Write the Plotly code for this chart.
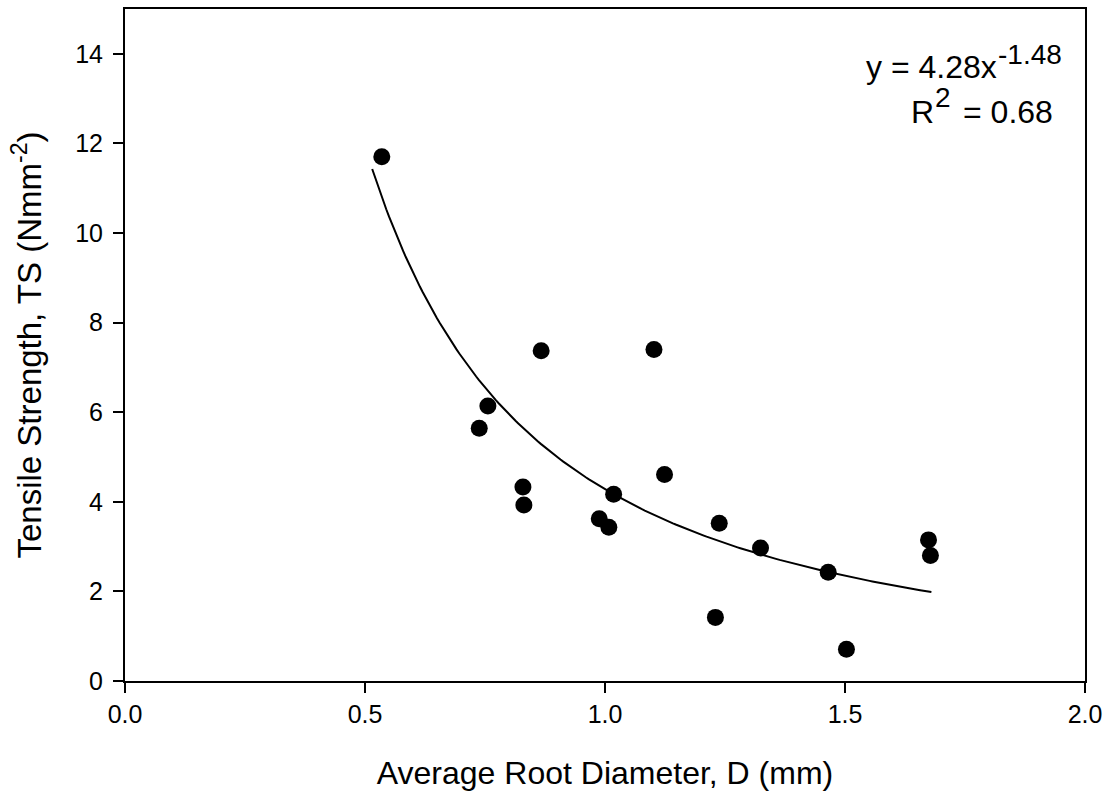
import numpy as np
import plotly.graph_objects as go

# Data
diameter_mm = [0.535, 0.738, 0.756, 0.829, 0.831, 0.867, 0.988, 1.008, 1.018,
               1.102, 1.124, 1.230, 1.238, 1.324, 1.465, 1.503, 1.674, 1.678]
tensile_strength = [11.70, 5.64, 6.14, 4.33, 3.93, 7.37, 3.62, 3.43, 4.17,
                    7.40, 4.61, 1.42, 3.52, 2.97, 2.43, 0.71, 3.15, 2.80]

# Power-law fit shown on the chart: y = a * x^b
fit_a = 4.28
fit_b = -1.48
fit_r2 = 0.68
fit_x_start = 0.515
fit_x_end = 1.68

x_ticks = [0.0, 0.5, 1.0, 1.5, 2.0]
y_ticks = [0, 2, 4, 6, 8, 10, 12, 14]

fit_x = np.linspace(fit_x_start, fit_x_end, 200)
fit_y = fit_a * fit_x ** fit_b

FONT = "Liberation Sans, Arial, sans-serif"

fig = go.Figure()
fig.add_trace(go.Scatter(x=fit_x, y=fit_y, mode="lines",
                         line=dict(color="black", width=2), hoverinfo="skip",
                         showlegend=False))
fig.add_trace(go.Scatter(x=diameter_mm, y=tensile_strength, mode="markers",
                         marker=dict(color="black", size=17), showlegend=False))

axis_common = dict(showline=True, linecolor="black", linewidth=2, mirror=True,
                   ticks="outside", ticklen=10, tickwidth=2, tickcolor="black",
                   showgrid=False, zeroline=False,
                   tickfont=dict(family=FONT, size=25, color="black"))

fig.update_xaxes(range=[0, 2.0], tickvals=x_ticks, ticktext=[f"{v:.1f}" for v in x_ticks],
                 title=dict(text="Average Root Diameter, D (mm)",
                            font=dict(family=FONT, size=32, color="black"), standoff=35),
                 **axis_common)
fig.update_yaxes(range=[0, 15], tickvals=y_ticks, ticklabelstandoff=5,
                 title=dict(text="Tensile Strength, TS (Nmm<sup>-2</sup>)",
                            font=dict(family=FONT, size=33, color="black"), standoff=24),
                 **axis_common)

# Fit equation text, with large superscripts as in the reference
eq_font = dict(family=FONT, size=32, color="black")
sup_font = dict(family=FONT, size=28, color="black")
common = dict(xref="paper", yref="paper", yanchor="middle", showarrow=False,
              borderpad=0, borderwidth=0)
fig.add_annotation(x=0.9083, y=0.913, xanchor="right", text=f"y = {fit_a:.2f}x",
                   font=eq_font, **common)
fig.add_annotation(x=0.9094, y=0.9324, xanchor="left", text=f"{fit_b:.2f}",
                   font=sup_font, **common)
fig.add_annotation(x=0.8427, y=0.846, xanchor="right", text="R",
                   font=eq_font, **common)
fig.add_annotation(x=0.8437, y=0.8685, xanchor="left", text="2",
                   font=sup_font, **common)
fig.add_annotation(x=0.8729, y=0.846, xanchor="left", text=f"= {fit_r2:.2f}",
                   font=eq_font, **common)

fig.update_layout(width=1110, height=797,
                  margin=dict(l=125, r=25, t=9, b=116, autoexpand=False),
                  plot_bgcolor="white", paper_bgcolor="white")

fig.write_html("out.html")
